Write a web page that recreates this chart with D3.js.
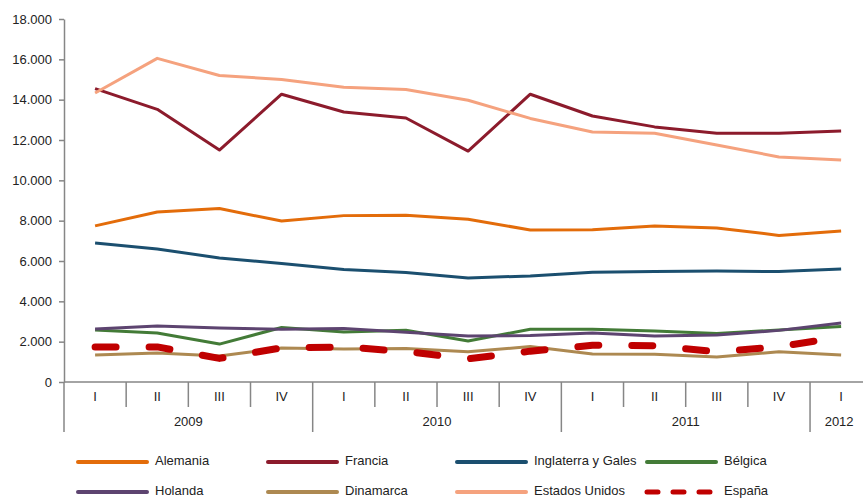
<!DOCTYPE html>
<html>
<head>
<meta charset="utf-8">
<script src="https://cdn.jsdelivr.net/npm/d3@7"></script>
<style>
  body { margin: 0; background: #fff; }
  svg { display: block; font-family: "Liberation Sans", Arial, sans-serif; }
</style>
</head>
<body>
<div id="chart"></div>
<script>
const margins = {top: 19, right: 0, bottom: 118, left: 64, width: 863, height: 500};

// categories: quarter + year
const quarters = ["I", "II", "III", "IV", "I", "II", "III", "IV", "I", "II", "III", "IV", "I"];
const quarterYears = ["2009", "2009", "2009", "2009", "2010", "2010", "2010", "2010", "2011", "2011", "2011", "2011", "2012"];
const yearLabels = ["2009", "2010", "2011", "2012"];
const yTicks = [0, 2000, 4000, 6000, 8000, 10000, 12000, 14000, 16000, 18000];

// series values
const alemania = [7740, 8430, 8600, 7980, 8250, 8270, 8070, 7540, 7550, 7740, 7640, 7270, 7490];
const francia = [14550, 13520, 11500, 14270, 13390, 13090, 11450, 14270, 13190, 12650, 12330, 12330, 12450];
const inglaterra = [6890, 6600, 6150, 5880, 5580, 5430, 5160, 5260, 5440, 5480, 5500, 5480, 5600];
const belgica = [2580, 2430, 1880, 2700, 2480, 2570, 2030, 2620, 2620, 2530, 2400, 2580, 2750];
const holanda = [2630, 2780, 2680, 2610, 2650, 2470, 2280, 2300, 2430, 2280, 2330, 2560, 2930];
const dinamarca = [1340, 1440, 1290, 1690, 1640, 1660, 1500, 1760, 1390, 1370, 1240, 1500, 1340];
const eeuu = [14330, 16050, 15200, 15000, 14620, 14500, 13970, 13070, 12400, 12330, 11750, 11160, 11010];
const espana = [1740, 1740, 1170, 1690, 1740, 1510, 1150, 1530, 1820, 1800, 1500, 1750, 2230];

const seriesNames = ["Alemania", "Francia", "Inglaterra y Gales", "Bélgica", "Holanda", "Dinamarca", "Estados Unidos", "España"];
const seriesValues = [alemania, francia, inglaterra, belgica, holanda, dinamarca, eeuu, espana];
const seriesColors = ["#E36C0A", "#8C1B2C", "#1B4F6F", "#437B37", "#5D4470", "#AD8951", "#F5A27E", "#C00000"];

const keys = quarters.map((q, i) => quarterYears[i] + "-" + q + "-" + i);
const series = seriesNames.map((name, i) => ({name: name, values: seriesValues[i], color: seriesColors[i], dashed: name === "España"}));

const svg = d3.select("#chart")
    .append("svg")
    .attr("width", margins.width)
    .attr("height", margins.height);

const bandW = 62.17;
const xScale = d3.scaleBand()
    .domain(keys)
    .range([margins.left, margins.left + bandW * keys.length])
    .padding(0);

const yScale = d3.scaleLinear()
    .domain([0, 18000])
    .range([margins.height - margins.bottom, margins.top]);

const axisColor = "#868686";
const esLocale = d3.formatLocale({decimal: ",", thousands: ".", grouping: [3], currency: ["", ""]});

// y axis
const yAxis = svg.append("g")
    .attr("transform", "translate(" + margins.left + ",0)")
    .call(d3.axisLeft(yScale)
        .tickValues(yTicks)
        .tickSize(5)
        .tickPadding(7)
        .tickSizeOuter(0)
        .tickFormat(esLocale.format(",d"))
    );
yAxis.select(".domain").attr("stroke", axisColor).attr("stroke-width", 1.5);
yAxis.selectAll(".tick line").attr("stroke", axisColor).attr("stroke-width", 1.5);
yAxis.selectAll(".tick text").style("font-size", "13px").attr("fill", "#222");

// category axis
const y0 = yScale(0);
const catAxis = svg.append("g");
catAxis.append("line")
    .attr("x1", margins.left)
    .attr("x2", margins.width)
    .attr("y1", y0)
    .attr("y2", y0)
    .attr("stroke", axisColor)
    .attr("stroke-width", 1.5);

keys.forEach((k, i) => {
    const newYear = i === 0 || quarterYears[i] !== quarterYears[i - 1];
    catAxis.append("line")
        .attr("x1", xScale(k))
        .attr("x2", xScale(k))
        .attr("y1", y0)
        .attr("y2", newYear ? y0 + 50 : y0 + 25)
        .attr("stroke", axisColor)
        .attr("stroke-width", 1.5);
    catAxis.append("text")
        .attr("x", xScale(k) + xScale.bandwidth() / 2)
        .attr("y", y0 + 16)
        .attr("dominant-baseline", "middle")
        .attr("text-anchor", "middle")
        .style("font-size", "13px")
        .attr("fill", "#222")
        .text(quarters[i]);
});

yearLabels.forEach(yr => {
    const ks = keys.filter((k, i) => quarterYears[i] === yr);
    const xa = xScale(ks[0]);
    const xb = xScale(ks[ks.length - 1]) + xScale.bandwidth();
    const xc = yr === "2012" ? xScale(ks[0]) + xScale.bandwidth() / 2 - 2 : (xa + xb) / 2;
    catAxis.append("text")
        .attr("x", xc)
        .attr("y", y0 + 41)
        .attr("dominant-baseline", "middle")
        .attr("text-anchor", "middle")
        .style("font-size", "13px")
        .attr("fill", "#222")
        .text(yr);
});

// lines
const line = d3.line()
    .x((d, i) => xScale(keys[i]) + xScale.bandwidth() / 2)
    .y(d => yScale(d));

svg.append("g")
    .selectAll("path")
    .data(series)
    .enter()
    .append("path")
    .attr("d", d => line(d.values))
    .attr("fill", "none")
    .attr("stroke", d => d.color)
    .attr("stroke-width", d => d.dashed ? 7 : 3)
    .attr("stroke-linecap", d => d.dashed ? "round" : "butt")
    .attr("stroke-linejoin", "round")
    .attr("stroke-dasharray", d => d.dashed ? "21,33" : null);

// legend
const legendCols = [78, 268, 457, 647];
const legendRows = [462, 492];
const legend = svg.append("g");
series.forEach((s, i) => {
    const lx = legendCols[i % 4];
    const ly = legendRows[Math.floor(i / 4)];
    legend.append("line")
        .attr("x1", lx)
        .attr("x2", lx + 69)
        .attr("y1", ly)
        .attr("y2", ly)
        .attr("stroke", s.color)
        .attr("stroke-width", s.dashed ? 5 : 4)
        .attr("stroke-linecap", "round")
        .attr("stroke-dasharray", s.dashed ? "11,15" : null);
    legend.append("text")
        .attr("x", lx + 77)
        .attr("y", ly)
        .attr("dominant-baseline", "middle")
        .style("font-size", "13px")
        .attr("fill", "#222")
        .text(s.name);
});
</script>
</body>
</html>
